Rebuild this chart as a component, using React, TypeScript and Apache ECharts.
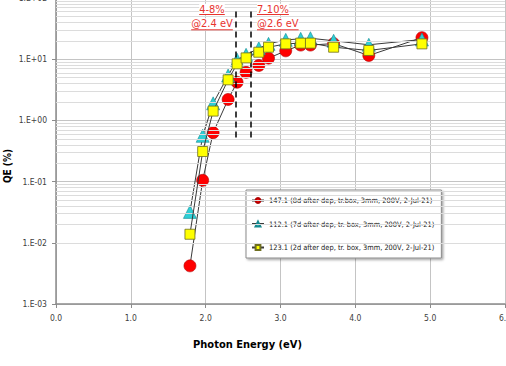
import React, { useEffect, useRef } from "react";
import * as echarts from "echarts";

const energy = [1.79, 1.96, 2.1, 2.3, 2.42, 2.54, 2.71, 2.84, 3.07, 3.27, 3.4, 3.71, 4.18, 4.89];
const qe147 = [0.0042, 0.105, 0.63, 2.2, 4.2, 6.1, 7.9, 10.4, 13.7, 17, 17, 18, 11.5, 22.5];
const qe112 = [0.032, 0.56, 1.9, 5.4, 9.8, 11.8, 15.1, 17.8, 20.7, 21.5, 22, 20, 17.2, 21];
const qe123 = [0.0138, 0.31, 1.42, 4.6, 8.4, 10.5, 13, 15.7, 17.8, 18.3, 18.3, 15.7, 13.9, 17.8];
const seriesNames = [
  "147.1 (8d after dep, tr.box, 3mm, 200V, 2-Jul-21)",
  "112.1 (7d after dep, tr. box, 3mm, 200V, 2-Jul-21)",
  "123.1 (2d after dep, tr. box, 3mm, 200V, 2-Jul-21)",
];
const xTicks = [0, 1, 2, 3, 4, 5, 6];
const yMin = 0.001;
const yMax = 100;
const minorMultipliers = [2, 3, 4, 5, 6, 7, 8, 9];
const decades = [0.001, 0.01, 0.1, 1, 10];
const dashedEnergies = [2.4, 2.6];
const dashedRange = [0.5, 60];
const annotationLeft = ["4-8%", "@2.4 eV"];
const annotationRight = ["7-10%", "@2.6 eV"];
const yTitle = "QE (%)";
const xTitle = "Photon Energy (eV)";

const FONT = "'DejaVu Sans Condensed', 'Liberation Sans', sans-serif";
const RED = "#e8342f";
const ANN_SIZE = 11;

function fmtExp(v: number) {
  const e = Math.round(Math.log10(v));
  const s = e < 0 ? "-" : "+";
  const a = Math.abs(e);
  return "1.E" + s + (a < 10 ? "0" + a : String(a));
}

function measure(text: string, size: number) {
  const c = document.createElement("canvas").getContext("2d");
  if (!c) return text.length * size * 0.5;
  c.font = `${size}px ${FONT}`;
  return c.measureText(text).width;
}

export default function App() {
  const ref = useRef<HTMLDivElement>(null);
  useEffect(() => {
    if (!ref.current) return;
    const chart = echarts.init(ref.current, undefined, { renderer: "svg" });
    const minorValues: number[] = [];
    decades.forEach((d) => minorMultipliers.forEach((m) => minorValues.push(+(d * m).toPrecision(3))));
    const pts = (ys: number[]) => energy.map((x, i) => [x, ys[i]]);
    const lineStyle = { color: "#3a3a3a", width: 1 };

    const annGraphics: any[] = [];
    const rowsY = [9.3, 23.8];
    const underY = [14.5, 29.8];
    annotationLeft.forEach((t, i) => {
      const w = measure(t, ANN_SIZE);
      const cx = 212;
      annGraphics.push({ type: "text", z: 10, style: { text: t, x: cx, y: rowsY[i], align: "center", verticalAlign: "middle", fontFamily: FONT, fontSize: ANN_SIZE, fill: RED, backgroundColor: "#ffffff" } });
      annGraphics.push({ type: "line", z: 11, shape: { x1: cx - w / 2, y1: underY[i], x2: cx + w / 2, y2: underY[i] }, style: { stroke: RED, lineWidth: 1 } });
    });
    annotationRight.forEach((t, i) => {
      const w = measure(t, ANN_SIZE);
      const lx = 257;
      annGraphics.push({ type: "text", z: 10, style: { text: t, x: lx, y: rowsY[i], align: "left", verticalAlign: "middle", fontFamily: FONT, fontSize: ANN_SIZE, fill: RED, backgroundColor: "#ffffff" } });
      annGraphics.push({ type: "line", z: 11, shape: { x1: lx, y1: underY[i], x2: lx + w, y2: underY[i] }, style: { stroke: RED, lineWidth: 1 } });
    });
    annGraphics.push({
      type: "text",
      x: 7,
      y: 166,
      rotation: Math.PI / 2,
      style: { text: yTitle, x: 0, y: 0, align: "center", verticalAlign: "middle", fontFamily: FONT, fontSize: 10, fontWeight: "bold", fill: "#000" },
    });

    chart.setOption({
      animation: false,
      backgroundColor: "#ffffff",
      grid: { left: 56, right: 1, top: -2, bottom: 62, containLabel: false, outerBoundsMode: "none" },
      xAxis: {
        type: "value",
        min: xTicks[0],
        max: xTicks[xTicks.length - 1],
        interval: 1,
        name: xTitle,
        nameLocation: "middle",
        nameGap: 35,
        nameTextStyle: { fontFamily: FONT, fontSize: 11, fontWeight: "bold", color: "#000", padding: [0, 66, 0, 0] },
        axisLine: { show: true, onZero: false, lineStyle: { color: "#8c8c8c", width: 1.5 } },
        axisTick: { show: true, length: 4, lineStyle: { color: "#8c8c8c" } },
        axisLabel: { margin: 9, fontFamily: FONT, fontSize: 8.5, color: "#404040", formatter: (v: number) => v.toFixed(1) },
        splitLine: { show: true, lineStyle: { color: "#c4c4c4", width: 1 } },
      },
      yAxis: {
        type: "log",
        logBase: 10,
        min: yMin,
        max: yMax,
        axisLine: { show: true, lineStyle: { color: "#8c8c8c", width: 1.5 } },
        axisTick: { show: true, length: 4, lineStyle: { color: "#8c8c8c" } },
        axisLabel: { margin: 9, fontFamily: FONT, fontSize: 8.5, color: "#404040", formatter: fmtExp },
        splitLine: { show: true, lineStyle: { color: "#c4c4c4", width: 1 } },
        minorTick: { show: false },
        minorSplitLine: { show: false },
      },
      legend: {
        show: true,
        orient: "vertical",
        left: 246,
        top: 190,
        data: seriesNames,
        itemWidth: 12,
        itemHeight: 6,
        itemGap: 16.5,
        padding: [7, 7, 7, 5],
        backgroundColor: "#ffffff",
        borderColor: "#8a8a8a",
        borderWidth: 1,
        shadowColor: "rgba(0,0,0,0.35)",
        shadowBlur: 2,
        shadowOffsetX: 1.5,
        shadowOffsetY: 1.5,
        textStyle: { fontFamily: FONT, fontSize: 7.4, color: "#222" },
      },
      series: [
        {
          name: "grid-minor",
          type: "line",
          data: [],
          silent: true,
          z: 0,
          markLine: {
            silent: true,
            symbol: "none",
            label: { show: false },
            lineStyle: { color: "#dcdcdc", width: 1, type: "solid" },
            data: minorValues.map((v) => ({ yAxis: v })),
          },
        },
        {
          name: seriesNames[0],
          type: "line",
          data: pts(qe147),
          symbol: "circle",
          symbolSize: 12,
          z: 3,
          lineStyle,
          itemStyle: { color: "#ff0000", borderColor: "#b00000", borderWidth: 0.6 },
          markLine: {
            silent: true,
            symbol: "none",
            label: { show: false },
            lineStyle: { color: "#000", width: 1.5, type: [6, 4] },
            data: dashedEnergies.map((e) => [
              { coord: [e, dashedRange[1]] },
              { coord: [e, dashedRange[0]] },
            ]),
          },
        },
        {
          name: seriesNames[1],
          type: "line",
          data: pts(qe112),
          symbol: "triangle",
          symbolSize: 13,
          z: 4,
          lineStyle,
          itemStyle: { color: "#2ecfd6", borderColor: "#168a90", borderWidth: 0.6 },
        },
        {
          name: seriesNames[2],
          type: "line",
          data: pts(qe123),
          symbol: "rect",
          symbolSize: 10,
          z: 5,
          lineStyle,
          itemStyle: { color: "#ffff00", borderColor: "#6f6f20", borderWidth: 0.8 },
        },
      ],
      graphic: annGraphics,
    });
    return () => chart.dispose();
  }, []);
  return <div ref={ref} style={{ position: "fixed", left: 0, top: 0, width: 506, height: 366 }} />;
}
